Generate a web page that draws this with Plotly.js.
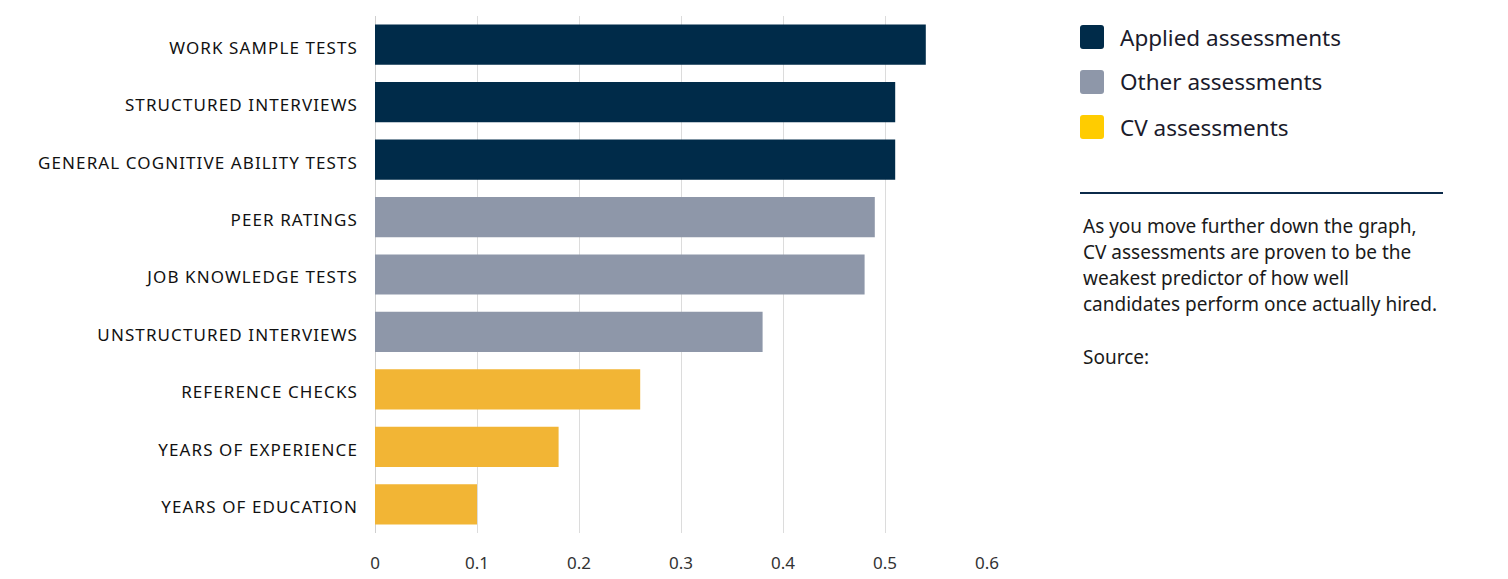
<!DOCTYPE html>
<html>
<head>
<meta charset="utf-8">
<script src="https://cdn.plot.ly/plotly-3.0.1.min.js"></script>
<style>
html,body{margin:0;padding:0;background:#fff;}
#chart{width:1508px;height:579px;}
.ytick text{letter-spacing:1.1px;}
.yaxislayer-above{transform:translate(0px,3px);}
</style>
</head>
<body>
<div id="chart"></div>
<script>
const categories = [
  "WORK SAMPLE TESTS",
  "STRUCTURED INTERVIEWS",
  "GENERAL COGNITIVE ABILITY TESTS",
  "PEER RATINGS",
  "JOB KNOWLEDGE TESTS",
  "UNSTRUCTURED INTERVIEWS",
  "REFERENCE CHECKS",
  "YEARS OF EXPERIENCE",
  "YEARS OF EDUCATION"
];
const values = [0.54, 0.51, 0.51, 0.49, 0.48, 0.38, 0.26, 0.18, 0.10];
const groups = ["applied","applied","applied","other","other","other","cv","cv","cv"];
const groupNames = ["Applied assessments", "Other assessments", "CV assessments"];
const groupKeys = ["applied", "other", "cv"];
const barColors = {applied:"#002B49", other:"#8E97A9", cv:"#F2B535"};
const legendColors = {applied:"#002B49", other:"#8E97A9", cv:"#FFCC00"};
const noteLines = [
  "As you move further down the graph,",
  "CV assessments are proven to be the",
  "weakest predictor of how well",
  "candidates perform once actually hired."
];
const sourceText = "Source:";
const xTicks = [0, 0.1, 0.2, 0.3, 0.4, 0.5, 0.6];

const W = 1508, H = 579;
const mL = 375, mR = 521, mT = 16, mB = 46;
const pw = W - mL - mR, ph = H - mT - mB;
const px = x => (x - mL) / pw;
const py = y => 1 - (y - mT) / ph;

const trace = {
  type: "bar",
  orientation: "h",
  y: categories,
  x: values,
  marker: {color: groups.map(g => barColors[g])},
  hoverinfo: "x+y",
  showlegend: false
};

function roundedRect(x, y, w, h, r) {
  const X = v => px(v), Y = v => py(v);
  return `M${X(x + r)},${Y(y)} L${X(x + w - r)},${Y(y)} Q${X(x + w)},${Y(y)} ${X(x + w)},${Y(y + r)} ` +
    `L${X(x + w)},${Y(y + h - r)} Q${X(x + w)},${Y(y + h)} ${X(x + w - r)},${Y(y + h)} ` +
    `L${X(x + r)},${Y(y + h)} Q${X(x)},${Y(y + h)} ${X(x)},${Y(y + h - r)} ` +
    `L${X(x)},${Y(y + r)} Q${X(x)},${Y(y)} ${X(x + r)},${Y(y)} Z`;
}

const shapes = [];
const annotations = [];
const legendRowY = [37, 82, 127];
groupKeys.forEach((k, i) => {
  const cy = legendRowY[i];
  shapes.push({
    type: "path", xref: "paper", yref: "paper",
    path: roundedRect(1080, cy - 12, 24, 24, 3),
    fillcolor: legendColors[k], line: {width: 0}
  });
  annotations.push({
    xref: "paper", yref: "paper", x: px(1118), y: py(cy),
    xanchor: "left", yanchor: "middle", showarrow: false,
    text: groupNames[i],
    font: {family: "Noto Sans, sans-serif", size: 22.5, color: "#1b1b2b"}
  });
});
shapes.push({
  type: "line", xref: "paper", yref: "paper",
  x0: px(1080), x1: px(1443), y0: py(193), y1: py(193),
  line: {color: "#0B2A4A", width: 2}
});
noteLines.forEach((t, i) => {
  annotations.push({
    xref: "paper", yref: "paper", x: px(1081), y: py(226 + i * 26),
    xanchor: "left", yanchor: "middle", showarrow: false,
    text: t, font: {family: "Noto Sans, sans-serif", size: 19, color: "#1a1a1a"}
  });
});
annotations.push({
  xref: "paper", yref: "paper", x: px(1081), y: py(357),
  xanchor: "left", yanchor: "middle", showarrow: false,
  text: sourceText, font: {family: "Noto Sans, sans-serif", size: 19, color: "#1a1a1a"}
});

const layout = {
  width: W, height: H,
  margin: {l: mL, r: mR, t: mT, b: mB, pad: 0},
  paper_bgcolor: "#fff", plot_bgcolor: "#fff",
  bargap: 0.3,
  font: {family: "Noto Sans, sans-serif", color: "#222"},
  xaxis: {
    range: [0, 0.6],
    tickvals: xTicks,
    ticktext: xTicks.map(v => String(v)),
    showgrid: true, gridcolor: "#dcdcdc", gridwidth: 1,
    zeroline: true, zerolinecolor: "#cfcfcf", zerolinewidth: 1,
    showline: false, ticks: "",
    ticklabelstandoff: 18,
    tickfont: {family: "Noto Sans, sans-serif", size: 17, color: "#333"},
    fixedrange: true
  },
  yaxis: {
    autorange: "reversed",
    showgrid: false, zeroline: false, showline: false, ticks: "",
    ticklabelstandoff: 16,
    tickfont: {family: "Noto Sans, sans-serif", size: 17, color: "#111"},
    fixedrange: true
  },
  shapes: shapes,
  annotations: annotations,
  showlegend: false
};

Plotly.newPlot("chart", [trace], layout, {displayModeBar: false, staticPlot: true});
</script>
</body>
</html>
